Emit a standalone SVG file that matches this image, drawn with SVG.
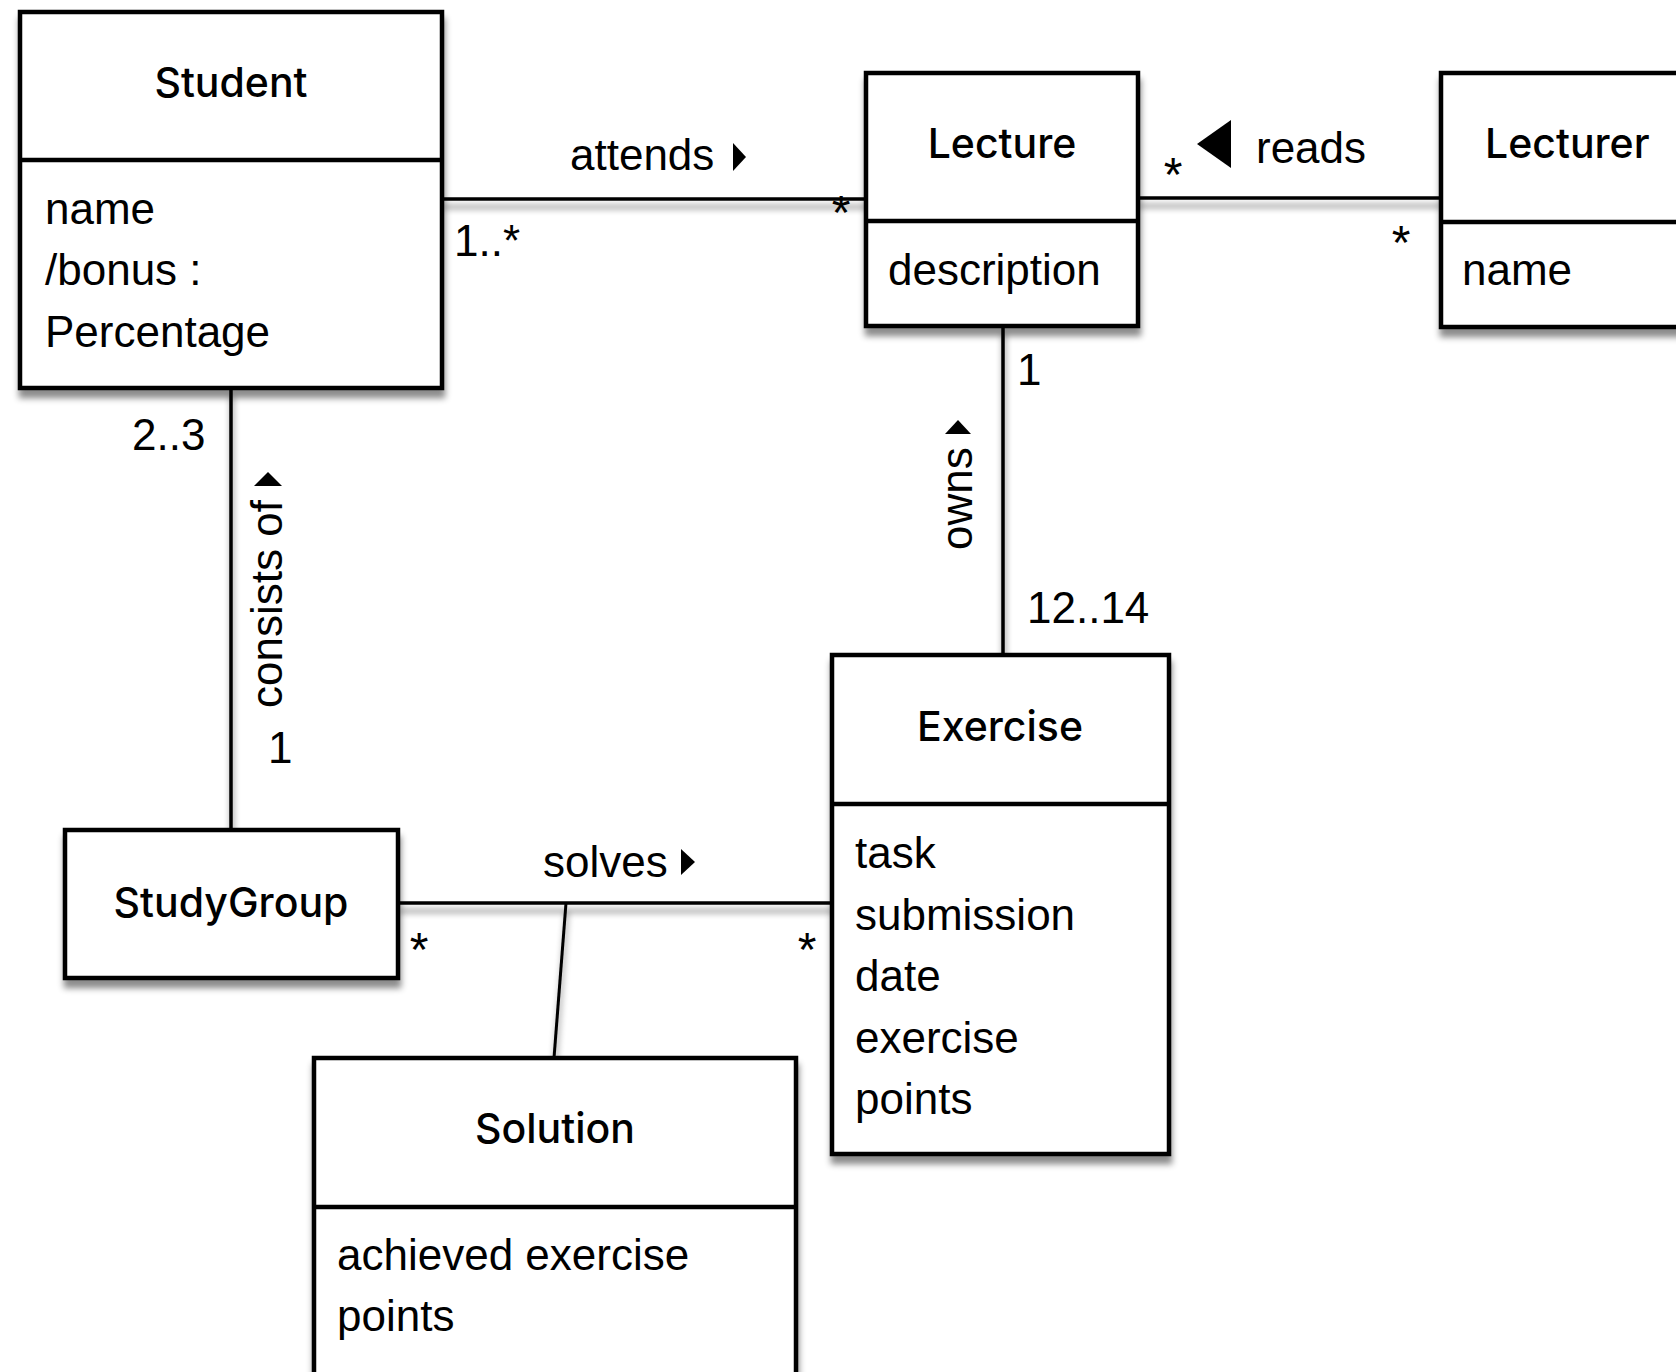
<svg xmlns="http://www.w3.org/2000/svg" width="1676" height="1372" viewBox="0 0 1676 1372">
  <style>
    .box { fill: #fff; stroke: #000; stroke-width: 4.5; }
    .div { stroke: #000; stroke-width: 4.5; }
    .edge { stroke: #000; stroke-width: 3.5; fill: none; }
    .title { font-family: Inter, "Liberation Sans", Arial, sans-serif; font-weight: 500; font-size: 41px; fill: #000; text-anchor: middle; }
    .attr { font-family: "Liberation Sans", Arial, sans-serif; font-size: 44px; fill: #000; }
    .lbl { font-family: "Liberation Sans", Arial, sans-serif; font-size: 44px; fill: #000; }
    .star { font-family: "Liberation Sans", Arial, sans-serif; font-size: 48px; fill: #000; text-anchor: middle; }
    .tri { fill: #000; }
  </style>
  <defs>
    <filter id="shadow" x="-10%" y="-10%" width="120%" height="130%">
      <feDropShadow dx="1" dy="8" stdDeviation="3" flood-color="#000" flood-opacity="0.45"/>
    </filter>
  </defs>
  <rect width="1676" height="1372" fill="#fff"/>

  <!-- associations -->
  <g id="connectors">
    <g filter="url(#shadow)">
      <line class="edge" x1="442" y1="199" x2="866" y2="199"/>
      <line class="edge" x1="1138" y1="198" x2="1441" y2="198"/>
      <line class="edge" x1="1003" y1="326" x2="1003" y2="655"/>
      <line class="edge" x1="231" y1="388" x2="231" y2="830"/>
      <line class="edge" x1="398" y1="903" x2="832" y2="903"/>
      <line class="edge" x1="566" y1="903" x2="554" y2="1058" style="stroke-width:3"/>
    </g>

    <!-- attends -->
    <text class="lbl" x="570" y="170">attends</text>
    <polygon class="tri" points="733,143 746,157 733,171"/>
    <text class="lbl" x="454" y="256">1..*</text>
    <text class="star" x="841" y="229">*</text>

    <!-- reads -->
    <text class="lbl" x="1256" y="163">reads</text>
    <polygon class="tri" points="1231,120 1197,144 1231,168"/>
    <text class="star" x="1173" y="191">*</text>
    <text class="star" x="1401" y="259">*</text>

    <!-- owns -->
    <text class="lbl" x="1017" y="385">1</text>
    <text class="lbl" x="1027" y="623">12..14</text>
    <text class="lbl" transform="translate(972,550) rotate(-90)">owns</text>
    <polygon class="tri" points="958,420 945,434 971,434"/>

    <!-- consists of -->
    <text class="lbl" x="132" y="450">2..3</text>
    <text class="lbl" x="268" y="763">1</text>
    <text class="lbl" transform="translate(282,708) rotate(-90)">consists of</text>
    <polygon class="tri" points="268,472 254,486 282,486"/>

    <!-- solves -->
    <text class="lbl" x="543" y="877">solves</text>
    <polygon class="tri" points="681,849 695,862 681,875"/>
    <text class="star" x="419" y="966">*</text>
    <text class="star" x="807" y="966">*</text>
  </g>

  <!-- classes -->
  <g id="student">
    <g filter="url(#shadow)">
      <rect class="box" x="20" y="12" width="422" height="376"/>
      <line class="div" x1="20" y1="160" x2="442" y2="160"/>
    </g>
    <text class="title" x="231" y="97">Student</text>
    <text class="attr" x="45" y="224">name</text>
    <text class="attr" x="45" y="285">/bonus :</text>
    <text class="attr" x="45" y="347">Percentage</text>
  </g>

  <g id="lecture">
    <g filter="url(#shadow)">
      <rect class="box" x="866" y="73" width="272" height="253"/>
      <line class="div" x1="866" y1="221" x2="1138" y2="221"/>
    </g>
    <text class="title" x="1002" y="158">Lecture</text>
    <text class="attr" x="888" y="285">description</text>
  </g>

  <g id="lecturer">
    <g filter="url(#shadow)">
      <rect class="box" x="1441" y="73" width="300" height="254"/>
      <line class="div" x1="1441" y1="222" x2="1741" y2="222"/>
    </g>
    <text class="title" x="1485" y="158" style="text-anchor:start">Lecturer</text>
    <text class="attr" x="1462" y="285">name</text>
  </g>

  <g id="exercise">
    <g filter="url(#shadow)">
      <rect class="box" x="832" y="655" width="337" height="499"/>
      <line class="div" x1="832" y1="804" x2="1169" y2="804"/>
    </g>
    <text class="title" x="1000" y="741">Exercise</text>
    <text class="attr" x="855" y="868">task</text>
    <text class="attr" x="855" y="930">submission</text>
    <text class="attr" x="855" y="991">date</text>
    <text class="attr" x="855" y="1053">exercise</text>
    <text class="attr" x="855" y="1114">points</text>
  </g>

  <g id="studygroup">
    <g filter="url(#shadow)">
      <rect class="box" x="65" y="830" width="333" height="148"/>
    </g>
    <text class="title" x="231" y="917">StudyGroup</text>
  </g>

  <g id="solution">
    <g filter="url(#shadow)">
      <rect class="box" x="314" y="1058" width="482" height="400"/>
      <line class="div" x1="314" y1="1207" x2="796" y2="1207"/>
    </g>
    <text class="title" x="555" y="1143">Solution</text>
    <text class="attr" x="337" y="1270">achieved exercise</text>
    <text class="attr" x="337" y="1331">points</text>
  </g>
</svg>
